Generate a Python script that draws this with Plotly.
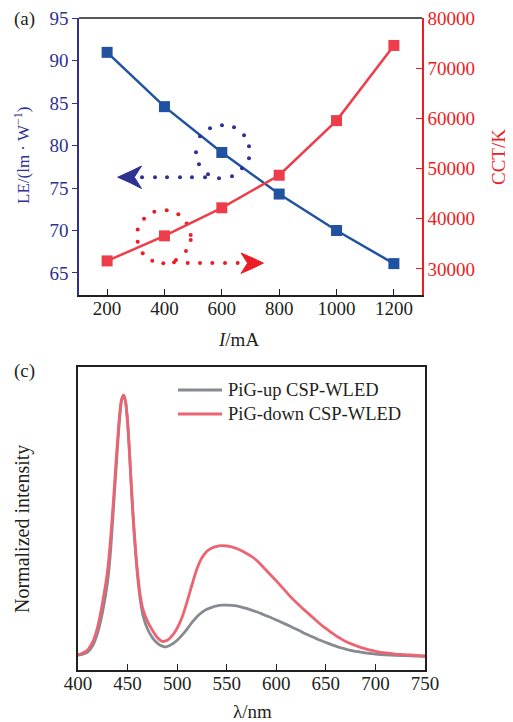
import plotly.graph_objects as go

# ---------------- data: panel (a) ----------------
current_mA = [200, 400, 600, 800, 1000, 1200]
le_lm_per_W = [91.0, 84.6, 79.2, 74.3, 70.0, 66.1]
cct_K = [31600, 36600, 42200, 48700, 59600, 74600]
current_ticks = [200, 400, 600, 800, 1000, 1200]
le_ticks = [65, 70, 75, 80, 85, 90, 95]
cct_ticks = [30000, 40000, 50000, 60000, 70000, 80000]

# ---------------- data: panel (c) ----------------
wl_down = [400, 405, 410, 415, 420, 425, 430, 433, 436, 439, 442, 444, 446, 448, 450, 452, 454,
           456, 458, 460, 463, 466, 470, 475, 480, 485, 490, 495, 500, 505, 510, 515, 520, 525,
           530, 535, 540, 545, 550, 555, 560, 565, 570, 575, 580, 585, 590, 595, 600, 605, 610,
           615, 620, 625, 630, 635, 640, 645, 650, 655, 660, 665, 670, 675, 680, 685, 690, 695,
           700, 710, 720, 730, 740, 750]
int_down = [0.055, 0.062, 0.074, 0.103, 0.16, 0.25, 0.367, 0.484, 0.63, 0.79, 0.93, 0.985, 1.0,
            0.975, 0.905, 0.79, 0.655, 0.54, 0.44, 0.357, 0.266, 0.215, 0.178, 0.145, 0.118,
            0.104, 0.108, 0.125, 0.152, 0.192, 0.248, 0.31, 0.368, 0.408, 0.432, 0.444, 0.45,
            0.452, 0.451, 0.448, 0.442, 0.434, 0.424, 0.413, 0.399, 0.381, 0.362, 0.343, 0.324,
            0.304, 0.284, 0.264, 0.246, 0.229, 0.213, 0.197, 0.181, 0.165, 0.151, 0.138, 0.125,
            0.114, 0.104, 0.096, 0.089, 0.082, 0.077, 0.072, 0.068, 0.062, 0.058, 0.056, 0.053,
            0.051]
wl_up = [400, 405, 410, 415, 420, 425, 430, 433, 436, 439, 442, 444, 446, 448, 450, 452, 454,
         456, 458, 460, 463, 466, 470, 475, 480, 485, 489, 495, 500, 505, 510, 515, 520, 525,
         530, 535, 540, 545, 550, 555, 560, 565, 570, 575, 580, 585, 590, 595, 600, 605, 610,
         615, 620, 625, 630, 635, 640, 645, 650, 655, 660, 665, 670, 675, 680, 685, 690, 695,
         700, 710, 720, 730, 740, 750]
int_up = [0.054, 0.058, 0.066, 0.09, 0.138, 0.215, 0.325, 0.44, 0.6, 0.765, 0.915, 0.98, 1.0,
          0.975, 0.9, 0.785, 0.65, 0.53, 0.43, 0.345, 0.25, 0.192, 0.15, 0.118, 0.098, 0.087,
          0.084, 0.094, 0.108, 0.127, 0.149, 0.173, 0.194, 0.21, 0.221, 0.228, 0.233, 0.236,
          0.236, 0.235, 0.233, 0.229, 0.224, 0.218, 0.212, 0.205, 0.197, 0.19, 0.182, 0.174,
          0.166, 0.157, 0.149, 0.14, 0.131, 0.123, 0.115, 0.107, 0.1, 0.093, 0.087, 0.081,
          0.076, 0.071, 0.068, 0.065, 0.062, 0.06, 0.058, 0.055, 0.053, 0.052, 0.051, 0.05]
wl_ticks = [400, 450, 500, 550, 600, 650, 700, 750]

series_names = ["PiG-up CSP-WLED", "PiG-down CSP-WLED"]

# ---------------- decoration (dotted curved arrows, in panel (a) data units) -------------
blue_dots_x = [321.7, 367, 408.9, 454.2, 496, 541.4, 520.4, 510, 523.9, 558.8, 600.6, 642.5,
               677.4, 694.8, 694.8, 670.4, 635.5, 590.2, 551.8]
blue_dots_y = [76.29, 76.29, 76.29, 76.29, 76.29, 76.29, 77.82, 79.23, 81.11, 82.05, 82.41,
               82.17, 81.23, 79.93, 78.52, 77.34, 76.40, 76.17, 76.64]
red_dots_x = [306.7, 306.7, 328.7, 364.6, 407.8, 448.3, 477.6, 491.5, 491.5, 475.1, 440.2,
              324.1, 357.6, 396, 433.3, 481, 524, 566.8, 611.1, 655.4]
red_dots_y = [68.67, 70.13, 71.38, 72.20, 72.40, 71.93, 70.84, 69.46, 68.87, 67.58, 66.52,
              67.31, 66.43, 66.13, 66.25, 66.16, 66.16, 66.16, 66.16, 66.16]

FONT = "Liberation Serif, Times New Roman, serif"
BLUE = "#2152a1"
NAVY = "#2e3192"
RED = "#ee3d4a"
RED_AX = "#ed1c24"
GRAY = "#878a91"
PINK = "#ec6372"
BLACK = "#231f20"

# page body has an 8px default margin: shrink the figure and offset coordinates
OFF = 8
W, H = 513 - OFF, 722 - OFF
def px(x):
    return (x - OFF) / W
def py(y):
    return 1 - (y - OFF) / H

fig = go.Figure()

fig.add_trace(go.Scatter(x=current_mA, y=le_lm_per_W, mode="lines+markers",
                         line=dict(color=BLUE, width=2.5),
                         marker=dict(symbol="square", size=11, color=BLUE),
                         xaxis="x", yaxis="y", showlegend=False))
fig.add_trace(go.Scatter(x=current_mA, y=cct_K, mode="lines+markers",
                         line=dict(color=RED, width=2.5),
                         marker=dict(symbol="square", size=11, color=RED),
                         xaxis="x", yaxis="y2", showlegend=False))
fig.add_trace(go.Scatter(x=blue_dots_x, y=blue_dots_y, mode="markers",
                         marker=dict(size=4, color=NAVY), xaxis="x", yaxis="y",
                         showlegend=False, hoverinfo="skip"))
fig.add_trace(go.Scatter(x=red_dots_x, y=red_dots_y, mode="markers",
                         marker=dict(size=4, color=RED_AX), xaxis="x", yaxis="y",
                         showlegend=False, hoverinfo="skip"))

fig.add_trace(go.Scatter(x=wl_up, y=int_up, mode="lines",
                         line=dict(color=GRAY, width=2.8, shape="spline", smoothing=0.8),
                         xaxis="x2", yaxis="y3", name=series_names[0], showlegend=False))
fig.add_trace(go.Scatter(x=wl_down, y=int_down, mode="lines",
                         line=dict(color=PINK, width=2.8, shape="spline", smoothing=0.8),
                         xaxis="x2", yaxis="y3", name=series_names[1], showlegend=False))

tickfont = dict(family=FONT, size=19, color=BLACK)

fig.update_layout(
    width=W, height=H,
    margin=dict(l=0, r=0, t=0, b=0, autoexpand=False),
    paper_bgcolor="white", plot_bgcolor="white",
    font=dict(family=FONT, color=BLACK),
    xaxis=dict(domain=[px(79), px(422)], anchor="y", range=[102, 1298], automargin=False,
               tickvals=current_ticks, ticks="inside", ticklen=6, tickcolor=BLACK,
               ticklabelstandoff=-5,
               showline=True, linecolor=BLACK, linewidth=1.5, showgrid=False, zeroline=False,
               tickfont=tickfont),
    yaxis=dict(domain=[py(295), py(18)], anchor="x", range=[62.4, 95.05], automargin=False,
               tickvals=le_ticks, ticks="outside", ticklen=5, tickcolor=NAVY,
               showline=True, linecolor=NAVY, linewidth=1.5, showgrid=False, zeroline=False,
               tickfont=dict(family=FONT, size=19, color=NAVY)),
    yaxis2=dict(overlaying="y", side="right", anchor="x", range=[24800, 80080], automargin=False,
                tickvals=cct_ticks, tickformat="d", ticks="inside", ticklen=6, tickcolor=RED_AX,
                showline=True, linecolor=RED_AX, linewidth=1.5, showgrid=False, zeroline=False,
                tickfont=dict(family=FONT, size=19, color=RED_AX)),
    xaxis2=dict(domain=[px(78), px(425)], anchor="y3", range=[400, 750], automargin=False,
                tickvals=wl_ticks, ticks="inside", ticklen=6, tickcolor=BLACK,
                ticklabelstandoff=-5,
                showline=True, mirror=True, linecolor=BLACK, linewidth=1.5,
                showgrid=False, zeroline=False, tickfont=tickfont),
    yaxis3=dict(domain=[py(670), py(367)], anchor="x2", range=[0, 1.102], automargin=False,
                showticklabels=False, ticks="", showline=True, mirror=True,
                linecolor=BLACK, linewidth=1.5, showgrid=False, zeroline=False),
)

shapes = []
# top frame line of panel (a)
shapes.append(dict(type="line", xref="paper", yref="paper", x0=px(79), x1=px(422),
                   y0=py(18), y1=py(18), line=dict(color=BLACK, width=1.5)))
# arrowheads (stealth style)
shapes.append(dict(type="path", xref="x", yref="y",
                   path="M237,76.29 Q285,77.0 320,77.6 L295,76.29 L320,74.95 Q285,75.6 237,76.29 Z",
                   fillcolor=NAVY, line=dict(color=NAVY, width=1)))
shapes.append(dict(type="path", xref="x", yref="y",
                   path="M745,66.16 Q700,66.9 667,67.35 L690,66.16 L667,64.95 Q700,65.4 745,66.16 Z",
                   fillcolor=RED_AX, line=dict(color=RED_AX, width=1)))
# manual legend lines
shapes.append(dict(type="line", xref="paper", yref="paper", x0=px(178), x1=px(222),
                   y0=py(390), y1=py(390), line=dict(color=GRAY, width=3)))
shapes.append(dict(type="line", xref="paper", yref="paper", x0=px(178), x1=px(222),
                   y0=py(414), y1=py(414), line=dict(color=PINK, width=3)))
fig.update_layout(shapes=shapes)

ann = []
def text(x, y, s, size=19, color=BLACK, angle=0, xanchor="center"):
    ann.append(dict(xref="paper", yref="paper", x=px(x), y=py(y), text=s, showarrow=False,
                    font=dict(family=FONT, size=size, color=color), textangle=angle,
                    xanchor=xanchor, yanchor="middle"))

text(24, 19, "(a)", 19)
text(24, 371, "(c)", 19)
text(22, 156, "LE/(lm · W<sup>−1</sup>)", 17, NAVY, -90)
text(498, 157, "CCT/K", 19, RED_AX, -90)
text(238, 339, "<i>I</i>/mA", 19)
text(252, 711, "λ/nm", 19)
text(22, 529, "Normalized intensity", 20, BLACK, -90)
text(226, 390, series_names[0], 18.5, BLACK, 0, "left")
text(226, 414, series_names[1], 18.5, BLACK, 0, "left")
fig.update_layout(annotations=ann)

fig.write_html("out.html")
